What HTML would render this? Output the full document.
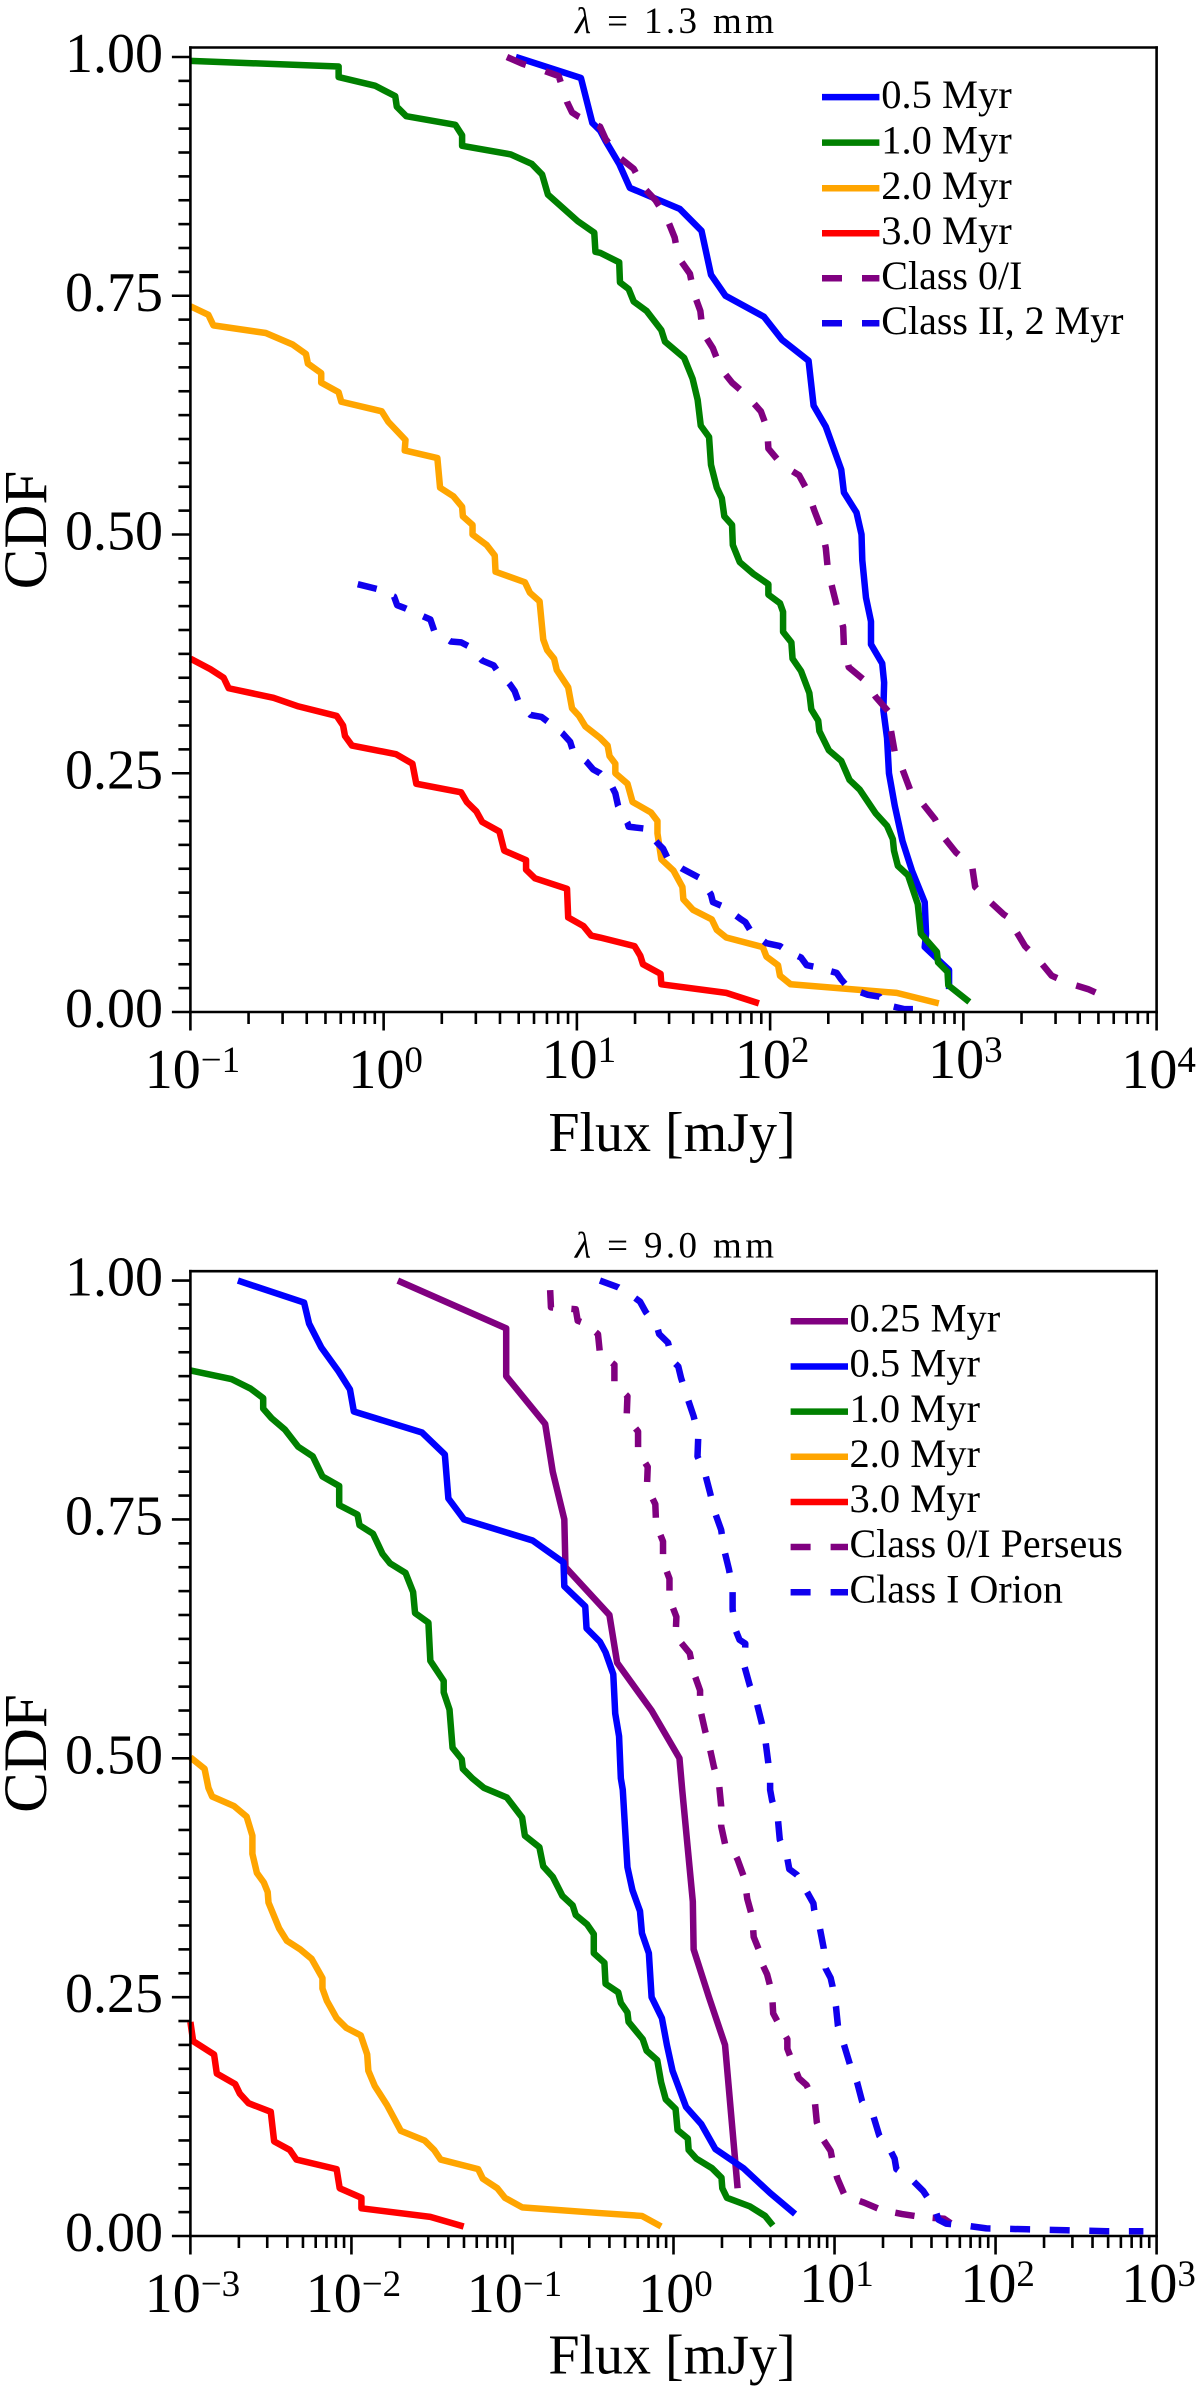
<!DOCTYPE html>
<html lang="en">
<head>
<meta charset="utf-8">
<title>CDF of Flux at 1.3 mm and 9.0 mm</title>
<style>
  html, body { margin: 0; padding: 0; background: #fff; }
  svg { display: block; }
  text { font-family: "Liberation Serif", "DejaVu Serif", serif; fill: #000; }
</style>
</head>
<body>
<svg id="figure" xmlns="http://www.w3.org/2000/svg" width="1200" height="2392" viewBox="0 0 1200 2392">
  <rect x="0" y="0" width="1200" height="2392" fill="#ffffff"/>

  <g id="top-chart">
    <text x="674.5" y="33" font-size="37" text-anchor="middle" textLength="199" lengthAdjust="spacing"><tspan font-style="italic">λ</tspan> = 1.3 mm</text>
    <g id="top-plot"></g>
    <text transform="translate(46,530) rotate(-90)" font-size="61" text-anchor="middle">CDF</text>
    <text x="672" y="1151" font-size="56" text-anchor="middle">Flux [mJy]</text>
    <g>
      <g>
        <line x1="822" x2="879.4" y1="97.1" y2="97.1" stroke="#0000ff" stroke-width="6.5"/>
        <text x="881.3" y="108" font-size="40.5">0.5 Myr</text>
      </g>
      <g>
        <line x1="822" x2="879.4" y1="142.6" y2="142.6" stroke="#008000" stroke-width="6.5"/>
        <text x="881.3" y="153.5" font-size="40.5">1.0 Myr</text>
      </g>
      <g>
        <line x1="822" x2="879.4" y1="188.2" y2="188.2" stroke="#ffa500" stroke-width="6.5"/>
        <text x="881.3" y="199" font-size="40.5">2.0 Myr</text>
      </g>
      <g>
        <line x1="822" x2="879.4" y1="233.2" y2="233.2" stroke="#ff0000" stroke-width="6.5"/>
        <text x="881.3" y="244" font-size="40.5">3.0 Myr</text>
      </g>
      <g>
        <line x1="822" x2="879.4" y1="278.2" y2="278.2" stroke="#800080" stroke-width="6.5" stroke-dasharray="20 20"/>
        <text x="881.3" y="289" font-size="40">Class 0/I</text>
      </g>
      <g>
        <line x1="822" x2="879.4" y1="323.2" y2="323.2" stroke="#1000ee" stroke-width="6.5" stroke-dasharray="20 20"/>
        <text x="881.3" y="334" font-size="40">Class II, 2 Myr</text>
      </g>
    </g>
  </g>

  <g id="bottom-chart">
    <text x="674.5" y="1257.5" font-size="37" text-anchor="middle" textLength="199" lengthAdjust="spacing"><tspan font-style="italic">λ</tspan> = 9.0 mm</text>
    <g id="bottom-plot"></g>
    <text transform="translate(46,1753.5) rotate(-90)" font-size="61" text-anchor="middle">CDF</text>
    <text x="672" y="2373.5" font-size="56" text-anchor="middle">Flux [mJy]</text>
    <g>
      <g>
        <line x1="790.6" x2="848" y1="1321.3" y2="1321.3" stroke="#800080" stroke-width="6.5"/>
        <text x="849.5" y="1331.5" font-size="40.5">0.25 Myr</text>
      </g>
      <g>
        <line x1="790.6" x2="848" y1="1366.5" y2="1366.5" stroke="#0000ff" stroke-width="6.5"/>
        <text x="849.5" y="1376.7" font-size="40.5">0.5 Myr</text>
      </g>
      <g>
        <line x1="790.6" x2="848" y1="1411.6" y2="1411.6" stroke="#008000" stroke-width="6.5"/>
        <text x="849.5" y="1421.8" font-size="40.5">1.0 Myr</text>
      </g>
      <g>
        <line x1="790.6" x2="848" y1="1456.8" y2="1456.8" stroke="#ffa500" stroke-width="6.5"/>
        <text x="849.5" y="1467" font-size="40.5">2.0 Myr</text>
      </g>
      <g>
        <line x1="790.6" x2="848" y1="1502" y2="1502" stroke="#ff0000" stroke-width="6.5"/>
        <text x="849.5" y="1512.2" font-size="40.5">3.0 Myr</text>
      </g>
      <g>
        <line x1="790.6" x2="848" y1="1547" y2="1547" stroke="#800080" stroke-width="6.5" stroke-dasharray="20 20"/>
        <text x="849.5" y="1557.2" font-size="40">Class 0/I Perseus</text>
      </g>
      <g>
        <line x1="790.6" x2="848" y1="1592.3" y2="1592.3" stroke="#1000ee" stroke-width="6.5" stroke-dasharray="20 20"/>
        <text x="849.5" y="1602.5" font-size="40">Class I Orion</text>
      </g>
    </g>
  </g>
</svg>

<script>
/* Tick labels */
const yTickLabels = ["0.00", "0.25", "0.50", "0.75", "1.00"];
const yTickValues = [0, 0.25, 0.5, 0.75, 1];
const topDecades = [-1, 0, 1, 2, 3, 4];
const bottomDecades = [-3, -2, -1, 0, 1, 2, 3];

/* ---- 1.3 mm panel: log10(flux / mJy) and CDF ---- */
const mm13_age05_logFlux = [0.684,1.021,1.080,1.120,1.149,1.219,1.274,1.532,1.645,1.694,1.769,1.968,2.061,2.199,2.225,2.288,2.368,2.382,2.447,2.473,2.477,2.496,2.522,2.522,2.580,2.590,2.586,2.605,2.615,2.645,2.685,2.734,2.800,2.807,2.800,2.926,2.926];
const mm13_age05_cdf     = [1.000,0.978,0.931,0.923,0.912,0.888,0.863,0.841,0.818,0.772,0.750,0.728,0.704,0.682,0.635,0.613,0.568,0.544,0.523,0.500,0.473,0.434,0.409,0.385,0.365,0.345,0.316,0.287,0.250,0.216,0.179,0.148,0.115,0.082,0.068,0.044,0.024];

const mm13_age10_logFlux = [-1,-0.233,-0.233,-0.045,0.060,0.068,0.117,0.371,0.406,0.406,0.658,0.767,0.820,0.850,1.005,1.090,1.096,1.120,1.219,1.223,1.268,1.294,1.361,1.437,1.456,1.555,1.599,1.625,1.641,1.684,1.694,1.724,1.750,1.763,1.803,1.807,1.843,1.912,1.991,1.991,2.051,2.067,2.067,2.110,2.116,2.160,2.203,2.213,2.249,2.255,2.304,2.368,2.411,2.463,2.546,2.605,2.635,2.641,2.661,2.714,2.764,2.780,2.863,2.869,2.918,2.922,3.031];
const mm13_age10_cdf     = [0.996,0.990,0.979,0.970,0.959,0.948,0.938,0.929,0.918,0.907,0.898,0.888,0.877,0.856,0.828,0.816,0.796,0.795,0.785,0.764,0.757,0.744,0.734,0.714,0.702,0.685,0.663,0.641,0.614,0.602,0.573,0.549,0.538,0.519,0.510,0.489,0.471,0.459,0.448,0.437,0.428,0.419,0.398,0.387,0.370,0.357,0.334,0.317,0.305,0.294,0.274,0.263,0.243,0.233,0.208,0.195,0.181,0.169,0.153,0.143,0.113,0.082,0.063,0.052,0.042,0.028,0.0105];

const mm13_age20_logFlux = [-1,-0.907,-0.881,-0.610,-0.471,-0.402,-0.392,-0.323,-0.323,-0.233,-0.219,-0.010,0.024,0.113,0.109,0.278,0.292,0.361,0.406,0.410,0.460,0.460,0.533,0.575,0.579,0.731,0.757,0.807,0.826,0.846,0.882,0.896,0.955,0.975,1.011,1.044,1.120,1.159,1.169,1.199,1.199,1.262,1.288,1.383,1.417,1.417,1.437,1.500,1.546,1.551,1.601,1.698,1.724,1.773,1.962,1.981,2.041,2.051,2.106,2.655,2.873];
const mm13_age20_cdf     = [0.739,0.730,0.719,0.711,0.699,0.689,0.679,0.669,0.659,0.649,0.639,0.629,0.618,0.599,0.588,0.580,0.549,0.540,0.529,0.519,0.510,0.500,0.489,0.478,0.461,0.450,0.439,0.430,0.390,0.379,0.370,0.358,0.340,0.318,0.310,0.299,0.287,0.279,0.268,0.260,0.250,0.239,0.220,0.209,0.200,0.187,0.160,0.148,0.131,0.118,0.107,0.097,0.086,0.078,0.068,0.058,0.049,0.038,0.029,0.020,0.009];

const mm13_age30_logFlux = [-1,-0.897,-0.828,-0.802,-0.570,-0.441,-0.243,-0.210,-0.200,-0.164,0.064,0.149,0.169,0.401,0.430,0.480,0.510,0.599,0.624,0.737,0.737,0.783,0.949,0.955,1.034,1.074,1.120,1.298,1.328,1.342,1.433,1.437,1.773,1.942];
const mm13_age30_cdf     = [0.370,0.359,0.350,0.339,0.329,0.320,0.310,0.300,0.289,0.279,0.270,0.260,0.239,0.230,0.220,0.210,0.199,0.189,0.169,0.159,0.149,0.140,0.129,0.099,0.090,0.080,0.078,0.069,0.059,0.050,0.040,0.029,0.020,0.009];

const mm13_class01_logFlux = [0.638,0.717,0.826,0.906,0.949,0.975,1.005,1.120,1.149,1.219,1.294,1.347,1.407,1.466,1.506,1.526,1.585,1.605,1.639,1.651,1.704,1.744,1.803,1.882,1.952,1.985,1.991,2.061,2.150,2.195,2.229,2.269,2.288,2.298,2.322,2.348,2.378,2.382,2.407,2.490,2.546,2.615,2.625,2.645,2.685,2.724,2.790,2.853,2.899,2.962,3.045,3.061,3.130,3.210,3.255,3.263,3.319,3.388,3.457,3.546,3.645,3.711];
const mm13_class01_cdf     = [1.000,0.993,0.986,0.980,0.953,0.942,0.938,0.927,0.914,0.895,0.883,0.863,0.850,0.831,0.811,0.790,0.773,0.753,0.734,0.712,0.695,0.674,0.659,0.645,0.629,0.611,0.590,0.573,0.562,0.545,0.525,0.504,0.486,0.465,0.444,0.423,0.403,0.382,0.361,0.347,0.330,0.314,0.295,0.272,0.254,0.233,0.218,0.202,0.183,0.167,0.153,0.131,0.117,0.102,0.096,0.088,0.069,0.055,0.038,0.030,0.024,0.018];

const mm13_class2_logFlux = [-0.134,-0.035,0.054,0.070,0.109,0.208,0.242,0.262,0.347,0.401,0.440,0.510,0.569,0.589,0.654,0.678,0.698,0.761,0.817,0.856,0.925,0.965,0.979,1.050,1.084,1.120,1.179,1.199,1.213,1.262,1.268,1.353,1.417,1.446,1.472,1.546,1.639,1.694,1.704,1.763,1.843,1.872,1.902,1.981,2.051,2.080,2.160,2.189,2.239,2.344,2.368,2.407,2.506,2.566,2.590,2.695,2.744];
const mm13_class2_cdf     = [0.448,0.443,0.435,0.426,0.423,0.414,0.411,0.399,0.388,0.387,0.383,0.368,0.363,0.357,0.343,0.336,0.325,0.311,0.309,0.303,0.292,0.283,0.274,0.262,0.254,0.250,0.237,0.229,0.216,0.198,0.194,0.192,0.177,0.171,0.160,0.150,0.140,0.123,0.115,0.110,0.098,0.094,0.084,0.072,0.069,0.065,0.057,0.049,0.047,0.041,0.034,0.025,0.018,0.016,0.008,0.003,0.003];

/* ---- 9.0 mm panel: log10(flux / mJy) and CDF ---- */
const mm90_age025_logFlux = [-1.712,-1.039,-1.039,-0.797,-0.750,-0.678,-0.671,-0.398,-0.350,-0.136,0.037,0.054,0.120,0.125,0.220,0.320,0.398];
const mm90_age025_cdf     = [1.00,0.95,0.90,0.85,0.80,0.75,0.70,0.65,0.60,0.55,0.50,0.467,0.35,0.30,0.25,0.20,0.05];

const mm90_age05_logFlux = [-2.705,-2.294,-2.263,-2.187,-2.080,-2.009,-1.985,-1.562,-1.420,-1.398,-1.301,-0.875,-0.683,-0.678,-0.548,-0.540,-0.457,-0.422,-0.374,-0.362,-0.338,-0.327,-0.315,-0.298,-0.286,-0.255,-0.208,-0.196,-0.153,-0.136,-0.072,-0.041,-0.006,0.078,0.173,0.260,0.434,0.600,0.755];
const mm90_age05_cdf     = [1.000,0.977,0.955,0.930,0.905,0.886,0.863,0.841,0.818,0.772,0.750,0.728,0.705,0.680,0.659,0.636,0.622,0.611,0.588,0.547,0.523,0.479,0.467,0.419,0.386,0.362,0.340,0.317,0.296,0.250,0.228,0.200,0.173,0.135,0.117,0.091,0.071,0.045,0.023];

const mm90_age10_logFlux = [-3,-2.746,-2.627,-2.548,-2.548,-2.496,-2.413,-2.330,-2.240,-2.180,-2.076,-2.076,-1.962,-1.950,-1.866,-1.807,-1.760,-1.664,-1.617,-1.605,-1.522,-1.510,-1.427,-1.427,-1.391,-1.372,-1.315,-1.308,-1.249,-1.177,-1.035,-0.940,-0.923,-0.833,-0.809,-0.750,-0.690,-0.626,-0.607,-0.536,-0.495,-0.495,-0.429,-0.422,-0.343,-0.327,-0.286,-0.279,-0.191,-0.167,-0.101,-0.077,-0.048,0.013,0.025,0.089,0.094,0.142,0.239,0.298,0.303,0.332,0.474,0.569,0.617];
const mm90_age10_cdf     = [0.906,0.897,0.887,0.877,0.866,0.856,0.844,0.826,0.816,0.795,0.785,0.765,0.755,0.744,0.735,0.714,0.704,0.694,0.674,0.652,0.642,0.602,0.581,0.569,0.551,0.511,0.499,0.489,0.479,0.469,0.459,0.438,0.419,0.407,0.387,0.376,0.356,0.346,0.336,0.326,0.316,0.296,0.286,0.264,0.255,0.244,0.234,0.224,0.206,0.194,0.184,0.161,0.143,0.133,0.111,0.102,0.090,0.081,0.071,0.061,0.050,0.040,0.031,0.021,0.011];

const mm90_age20_logFlux = [-3,-2.912,-2.888,-2.865,-2.729,-2.651,-2.615,-2.615,-2.587,-2.544,-2.520,-2.515,-2.449,-2.401,-2.318,-2.247,-2.180,-2.180,-2.152,-2.092,-2.033,-1.942,-1.902,-1.895,-1.855,-1.779,-1.693,-1.546,-1.486,-1.446,-1.213,-1.184,-1.094,-1.047,-0.940,-0.457,-0.196,-0.077];
const mm90_age20_cdf     = [0.501,0.489,0.469,0.460,0.450,0.439,0.419,0.400,0.380,0.370,0.360,0.349,0.322,0.309,0.300,0.290,0.270,0.259,0.246,0.228,0.218,0.210,0.190,0.173,0.157,0.137,0.110,0.100,0.090,0.080,0.070,0.060,0.050,0.040,0.030,0.024,0.021,0.010];

const mm90_age30_logFlux = [-3,-2.983,-2.853,-2.836,-2.722,-2.693,-2.639,-2.501,-2.480,-2.382,-2.342,-2.092,-2.073,-1.938,-1.938,-1.510,-1.303];
const mm90_age30_cdf     = [0.224,0.204,0.190,0.170,0.159,0.149,0.139,0.130,0.099,0.090,0.080,0.070,0.050,0.040,0.029,0.020,0.010];

const mm90_perseus_logFlux = [-0.766,-0.761,-0.607,-0.595,-0.548,-0.469,-0.457,-0.367,-0.367,-0.286,-0.291,-0.220,-0.220,-0.160,-0.165,-0.113,-0.108,-0.065,-0.065,-0.025,-0.025,0.018,0.013,0.101,0.125,0.165,0.165,0.196,0.225,0.251,0.284,0.296,0.296,0.322,0.375,0.398,0.441,0.458,0.489,0.498,0.546,0.553,0.581,0.612,0.619,0.679,0.707,0.707,0.755,0.779,0.826,0.878,0.890,0.933,0.976,0.985,1.016,1.064,1.183,1.294,1.420,1.534,1.681,1.760];
const mm90_perseus_cdf     = [0.990,0.972,0.970,0.958,0.955,0.944,0.924,0.912,0.892,0.879,0.857,0.842,0.821,0.805,0.784,0.766,0.745,0.727,0.706,0.688,0.667,0.648,0.628,0.610,0.590,0.571,0.552,0.529,0.511,0.491,0.471,0.450,0.429,0.409,0.402,0.394,0.374,0.353,0.334,0.313,0.293,0.284,0.274,0.254,0.233,0.214,0.206,0.196,0.175,0.165,0.158,0.140,0.119,0.100,0.089,0.081,0.061,0.042,0.035,0.027,0.023,0.020,0.018,0.009];

const mm90_orion_logFlux = [-0.457,-0.343,-0.248,-0.208,-0.172,-0.101,-0.089,-0.034,-0.006,0.030,0.047,0.085,0.125,0.154,0.149,0.196,0.227,0.256,0.296,0.315,0.344,0.367,0.367,0.386,0.410,0.446,0.441,0.474,0.517,0.548,0.572,0.588,0.600,0.600,0.612,0.648,0.660,0.707,0.719,0.767,0.826,0.869,0.874,0.909,0.933,0.945,0.976,0.988,1.009,1.021,1.059,1.095,1.140,1.171,1.242,1.278,1.349,1.373,1.384,1.480,1.551,1.622,1.646,1.693,1.812,1.943,2.193,2.442,2.692,2.918];
const mm90_orion_cdf     = [1.000,0.993,0.983,0.978,0.967,0.951,0.944,0.935,0.916,0.910,0.898,0.878,0.858,0.838,0.816,0.798,0.778,0.758,0.739,0.718,0.698,0.678,0.656,0.634,0.624,0.620,0.596,0.576,0.558,0.537,0.517,0.496,0.475,0.467,0.456,0.437,0.415,0.395,0.384,0.378,0.361,0.348,0.341,0.322,0.301,0.280,0.270,0.261,0.240,0.220,0.200,0.180,0.161,0.141,0.125,0.105,0.089,0.081,0.070,0.059,0.047,0.029,0.017,0.013,0.011,0.008,0.007,0.006,0.005,0.005];

const SVG_NS = "http://www.w3.org/2000/svg";
const SOLID = "none";

function line(parent, x1, y1, x2, y2, width) {
  const el = document.createElementNS(SVG_NS, "line");
  el.setAttribute("x1", x1);
  el.setAttribute("y1", y1);
  el.setAttribute("x2", x2);
  el.setAttribute("y2", y2);
  el.setAttribute("stroke", "#000");
  el.setAttribute("stroke-width", width);
  parent.appendChild(el);
  return el;
}

function drawSeries(parent, xScale, yScale, logFlux, cdf, color, dash, name) {
  const d = logFlux.map(function (v, i) {
    return (i ? "L" : "M") + xScale(v).toFixed(2) + " " + yScale(cdf[i]).toFixed(2);
  }).join("");
  const path = document.createElementNS(SVG_NS, "path");
  path.setAttribute("d", d);
  path.setAttribute("fill", "none");
  path.setAttribute("stroke", color);
  path.setAttribute("stroke-width", "6.5");
  path.setAttribute("stroke-linejoin", "round");
  path.setAttribute("stroke-linecap", "butt");
  if (dash !== SOLID) path.setAttribute("stroke-dasharray", dash);
  
  
  parent.appendChild(path);
}

function drawAxes(parent, box, decades, xScale, yScale, prefix) {
  const ticks = document.createElementNS(SVG_NS, "g");
  
  
  parent.appendChild(ticks);

  /* y ticks: major every 0.25, minor every 0.025 */
  for (let i = 0; i <= 40; i++) {
    const y = yScale(i * 0.025);
    const major = i % 10 === 0;
    const t = line(ticks, box.left - (major ? 18.5 : 12), y, box.left, y, 2.6);
    
    
  }
  yTickValues.forEach(function (value, i) {
    const label = document.createElementNS(SVG_NS, "text");
    label.setAttribute("x", 163);
    label.setAttribute("y", yScale(value) + 15);
    label.setAttribute("font-size", "56");
    label.setAttribute("text-anchor", "end");
    label.textContent = yTickLabels[i];
    
    
    ticks.appendChild(label);
  });

  /* x ticks: log decades with 2..9 minor ticks */
  decades.forEach(function (exp, i) {
    const x = xScale(exp);
    const major = line(ticks, x, box.bottom, x, box.bottom + 18.5, 2.6);
    
    
    if (i < decades.length - 1) {
      for (let m = 2; m <= 9; m++) {
        const xm = xScale(exp + Math.log10(m));
        const minor = line(ticks, xm, box.bottom, xm, box.bottom + 12, 2.6);
        
        
      }
    }
    const raised = exp >= 1 && exp <= 3;
    const label = document.createElementNS(SVG_NS, "text");
    label.setAttribute("x", x + 2);
    label.setAttribute("y", box.bottom + (raised ? 66 : 76));
    label.setAttribute("font-size", "56");
    label.setAttribute("text-anchor", "middle");
    
    
    label.appendChild(document.createTextNode("10"));
    const sup = document.createElementNS(SVG_NS, "tspan");
    sup.setAttribute("dy", "-16");
    sup.setAttribute("font-size", "37");
    sup.textContent = String(exp).replace("-", "\u2212");
    label.appendChild(sup);
    ticks.appendChild(label);
  });

  /* spines */
  const spines = [
    ["left-spine", box.left, box.top, box.left, box.bottom],
    ["right-spine", box.right, box.top, box.right, box.bottom],
    ["top-spine", box.left, box.top, box.right, box.top],
    ["bottom-spine", box.left, box.bottom, box.right, box.bottom]
  ];
  spines.forEach(function (s) {
    const sp = line(ticks, s[1], s[2], s[3], s[4], 2.6);
    sp.setAttribute("stroke-linecap", "square");
    
    
  });
}

/* Top panel */
(function () {
  const parent = document.getElementById("top-plot");
  const box = { left: 190.4, right: 1156.6, top: 47.5, bottom: 1012 };
  const xScale = function (logF) { return box.left + (logF + 1) * (box.right - box.left) / 5; };
  const yScale = function (v) { return box.bottom - v * 955; };
  drawSeries(parent, xScale, yScale, mm13_age05_logFlux, mm13_age05_cdf, "#0000ff", SOLID, "line-0-5-myr");
  drawSeries(parent, xScale, yScale, mm13_age10_logFlux, mm13_age10_cdf, "#008000", SOLID, "line-1-0-myr");
  drawSeries(parent, xScale, yScale, mm13_age20_logFlux, mm13_age20_cdf, "#ffa500", SOLID, "line-2-0-myr");
  drawSeries(parent, xScale, yScale, mm13_age30_logFlux, mm13_age30_cdf, "#ff0000", SOLID, "line-3-0-myr");
  drawSeries(parent, xScale, yScale, mm13_class01_logFlux, mm13_class01_cdf, "#800080", "20.5 20.5", "line-class-0-i");
  drawSeries(parent, xScale, yScale, mm13_class2_logFlux, mm13_class2_cdf, "#1000ee", "19.5 18.5", "line-class-ii-2-myr");
  drawAxes(parent, box, topDecades, xScale, yScale, "top");
})();

/* Bottom panel */
(function () {
  const parent = document.getElementById("bottom-plot");
  const box = { left: 190.4, right: 1156.6, top: 1271.2, bottom: 2236 };
  const xScale = function (logF) { return box.left + (logF + 3) * (box.right - box.left) / 6; };
  const yScale = function (v) { return box.bottom - v * 955.4; };
  drawSeries(parent, xScale, yScale, mm90_age025_logFlux, mm90_age025_cdf, "#800080", SOLID, "line-0-25-myr");
  drawSeries(parent, xScale, yScale, mm90_age05_logFlux, mm90_age05_cdf, "#0000ff", SOLID, "line-0-5-myr");
  drawSeries(parent, xScale, yScale, mm90_age10_logFlux, mm90_age10_cdf, "#008000", SOLID, "line-1-0-myr");
  drawSeries(parent, xScale, yScale, mm90_age20_logFlux, mm90_age20_cdf, "#ffa500", SOLID, "line-2-0-myr");
  drawSeries(parent, xScale, yScale, mm90_age30_logFlux, mm90_age30_cdf, "#ff0000", SOLID, "line-3-0-myr");
  drawSeries(parent, xScale, yScale, mm90_perseus_logFlux, mm90_perseus_cdf, "#800080", "19.5 18.2", "line-class-0-i-perseus");
  drawSeries(parent, xScale, yScale, mm90_orion_logFlux, mm90_orion_cdf, "#1000ee", "20 19.6", "line-class-i-orion");
  drawAxes(parent, box, bottomDecades, xScale, yScale, "bottom");
})();
</script>
</body>
</html>
